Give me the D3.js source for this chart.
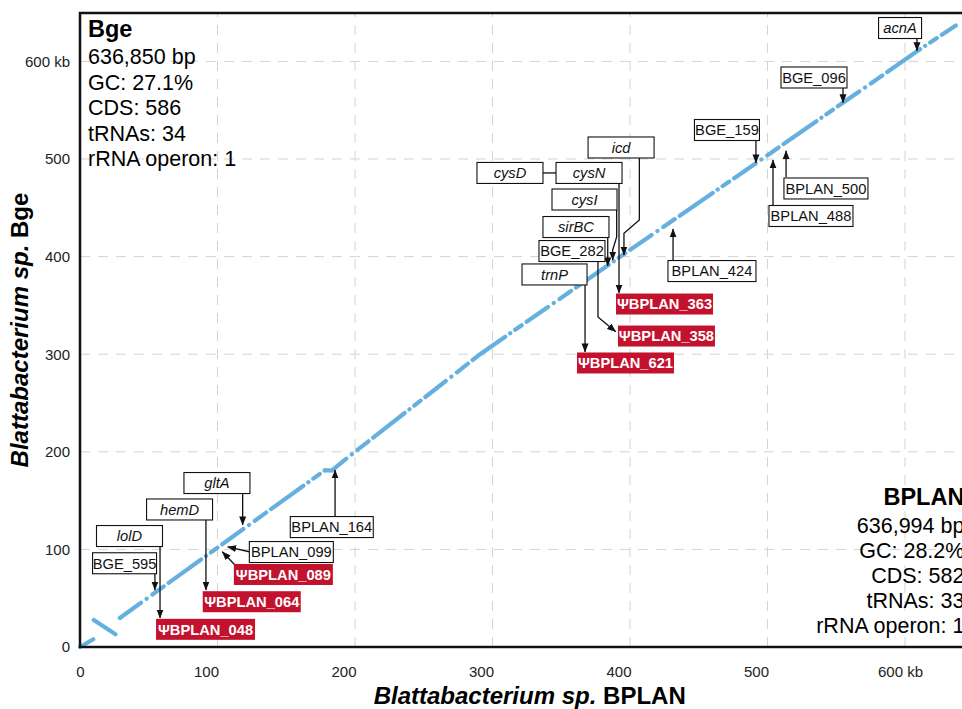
<!DOCTYPE html>
<html>
<head>
<meta charset="utf-8">
<script src="https://cdn.jsdelivr.net/npm/d3@7/dist/d3.min.js"></script>
<style>
  html, body { margin: 0; padding: 0; background: #fff; }
  svg { display: block; font-family: "Liberation Sans", Arial, Helvetica, sans-serif; }
</style>
</head>
<body>
<svg id="chart" width="962" height="709"></svg>
<script>
// ---- data (kb) ----
const genomeLenBplan = 636.994;
const genomeLenBge = 636.850;

const xTicks = [0, 100, 200, 300, 400, 500, 600];
const xTickLabels = ["0", "100", "200", "300", "400", "500", "600 kb"];
const yTicks = [0, 100, 200, 300, 400, 500, 600];
const yTickLabels = ["0", "100", "200", "300", "400", "500", "600 kb"];

// collinear blocks: BPLAN position vs Bge position of orthologous genes
const blockBplan = [
  [0, 9.7],
  [10, 27.6],
  [29, 178.2, 183, 200, 291, 393, 496, 609, 636.99]
];
const blockBge = [
  [0, 7.9],
  [27.6, 11.3],
  [29.7, 181.2, 180.8, 200, 300, 400, 500, 610.6, 636.85]
];

const statsBge = ["636,850 bp", "GC: 27.1%", "CDS: 586", "tRNAs: 34", "rRNA operon: 1"];
const statsBplan = ["636,994 bp", "GC: 28.2%", "CDS: 582", "tRNAs: 33", "rRNA operon: 1"];

// annotated loci: label text and kind (gene = italic gene name, locus = locus tag, pseudo = BPLAN pseudogene)
const labelText = ["acnA", "BGE_096", "BGE_159", "BPLAN_488", "BPLAN_500", "BPLAN_424",
  "icd", "cysD", "cysN", "cysI", "sirBC", "BGE_282", "trnP",
  "\u03A8BPLAN_363", "\u03A8BPLAN_358", "\u03A8BPLAN_621",
  "gltA", "hemD", "\u03A8BPLAN_064", "lolD", "\u03A8BPLAN_048", "BGE_595",
  "BPLAN_099", "\u03A8BPLAN_089", "BPLAN_164"];
const labelKind = ["gene", "locus", "locus", "locus", "locus", "locus",
  "gene", "gene", "gene", "gene", "gene", "locus", "gene",
  "pseudo", "pseudo", "pseudo",
  "gene", "gene", "pseudo", "gene", "pseudo", "locus",
  "locus", "pseudo", "locus"];

// label placement (box centre and leader path in kb, box width in px)
const labelLayout = [
  { c: [596.4, 634.2], w: 43, path: [[608.7, 624.0], [608.7, 610.8]] },
  { c: [533.8, 583.5], w: 66, path: [[554.9, 572.7], [554.9, 557.6]] },
  { c: [470.5, 529.7], w: 65, path: [[491.6, 521.5], [491.6, 496.0]] },
  { c: [531.6, 441.6], w: 84, path: [[504.0, 452.9], [504.0, 499.0]] },
  { c: [542.5, 469.8], w: 84, path: [[513.5, 481.6], [513.5, 508.4]] },
  { c: [459.6, 385.2], w: 88, path: [[431.3, 396.5], [431.3, 428.3]] },
  { c: [393.5, 511.8], w: 66, path: [[406.8, 501.0], [406.8, 437.5], [395.6, 423.9], [395.6, 401.6]] },
  { c: [312.7, 485.7], w: 66, path: [[336.7, 485.7], [346.2, 485.7]], noArrow: true },
  { c: [370.2, 485.7], w: 66, path: [[392.0, 475.4], [392.0, 362.7]] },
  { c: [366.9, 458.5], w: 65, path: [[390.3, 447.7], [390.3, 420.1], [387.4, 406.8], [387.4, 396.5]] },
  { c: [360.7, 430.3], w: 66, path: [[383.8, 419.4], [383.8, 390.4]] },
  { c: [357.8, 405.7], w: 66, path: [[376.7, 394.5], [376.7, 338.1], [389.6, 323.1]] },
  { c: [345.1, 381.7], w: 65, path: [[367.3, 370.9], [367.3, 302.3]] },
  { c: [425.1, 351.4], w: 97, path: null },
  { c: [426.5, 318.6], w: 97, path: null },
  { c: [396.7, 291.0], w: 97, path: null },
  { c: [99.6, 168.0], w: 66, path: [[118.3, 157.5], [118.3, 125.0]] },
  { c: [72.4, 140.9], w: 66, path: [[91.6, 130.1], [91.6, 58.4]] },
  { c: [124.9, 46.4], w: 98, path: null },
  { c: [36.0, 113.7], w: 66, path: [[58.2, 102.8], [58.2, 29.7]] },
  { c: [91.3, 18.1], w: 99, path: null },
  { c: [32.4, 85.8], w: 64, path: [[54.5, 76.1], [54.5, 58.4]] },
  { c: [153.7, 97.3], w: 84, path: [[123.1, 97.6], [107.4, 102.7]] },
  { c: [147.9, 74.3], w: 99, path: [[112.7, 84.0], [103.5, 97.6]] },
  { c: [183.1, 122.9], w: 83, path: [[185.5, 133.5], [185.5, 181.4]] }
];

// ---- scales ----
const svg = d3.select("#chart");
const x = d3.scaleLinear().domain([0, genomeLenBplan * 1.02]).range([80, 973.4]);
const y = d3.scaleLinear().domain([0, genomeLenBge * 1.02]).range([647, 13]);
const [x0, x1] = x.range();
const [y0, y1] = y.range();

// grid
const grid = svg.append("g").attr("stroke", "#d3d3d3").attr("stroke-width", 1)
  .attr("stroke-dasharray", "10 8");
grid.selectAll("line.v").data(xTicks.slice(1)).join("line").attr("class", "v")
  .attr("x1", d => x(d)).attr("x2", d => x(d)).attr("y1", y0).attr("y2", y1);
grid.selectAll("line.h").data(yTicks.slice(1)).join("line").attr("class", "h")
  .attr("y1", d => y(d)).attr("y2", d => y(d)).attr("x1", x0).attr("x2", x1);

// synteny line (ortholog pairs drawn as a broken dotted trace)
const blocks = blockBplan.map((b, i) => b.map((v, j) => [v, blockBge[i][j]]));
const line = d3.line().x(d => x(d[0])).y(d => y(d[1]));
svg.append("g").selectAll("path").data(blocks).join("path")
  .attr("d", line)
  .attr("fill", "none")
  .attr("stroke", "#66b0df")
  .attr("stroke-width", 4.2)
  .attr("stroke-linecap", "round")
  .attr("stroke-dasharray", "26 7 0.1 7 14 6 40 6 0.1 6 8 6");

// axes
const xAxis = svg.append("g").attr("transform", `translate(0,${y0})`)
  .call(d3.axisBottom(x).tickValues(xTicks).tickFormat((d, i) => xTickLabels[i]).tickSize(0).tickPadding(19));
xAxis.select(".domain").remove();
xAxis.selectAll("text").attr("font-size", 15).attr("fill", "#222")
  .attr("font-family", "Liberation Sans, Arial, sans-serif")
  .attr("text-anchor", (d, i) => i === 0 || i === xTicks.length - 1 ? "middle" : "end")
  .attr("dx", (d, i) => i === 0 ? 0 : (i === xTicks.length - 1 ? -5 : 1));

const yAxis = svg.append("g").attr("transform", `translate(${x0},0)`)
  .call(d3.axisLeft(y).tickValues(yTicks).tickFormat((d, i) => yTickLabels[i]).tickSize(0).tickPadding(10));
yAxis.select(".domain").remove();
yAxis.selectAll("text").attr("font-size", 15).attr("fill", "#222")
  .attr("font-family", "Liberation Sans, Arial, sans-serif");

// panel border
svg.append("rect").attr("x", x0).attr("y", y1).attr("width", x1 - x0).attr("height", y0 - y1)
  .attr("fill", "none").attr("stroke", "#111").attr("stroke-width", 2.5);

// axis titles
const xt = svg.append("text").attr("x", (x0 + x1) / 2 + 3).attr("y", 704)
  .attr("text-anchor", "middle").attr("font-size", 24).attr("font-weight", "bold");
xt.append("tspan").attr("font-style", "italic").text("Blattabacterium sp.");
xt.append("tspan").text(" BPLAN");
const yt = svg.append("text").attr("transform", `translate(28,${(y0 + y1) / 2}) rotate(-90)`)
  .attr("text-anchor", "middle").attr("font-size", 24).attr("font-weight", "bold");
yt.append("tspan").attr("font-style", "italic").text("Blattabacterium sp.");
yt.append("tspan").text(" Bge");

// genome summaries
const infoL = svg.append("g").attr("transform", `translate(${x0 + 8},0)`);
infoL.append("text").attr("y", 37).attr("font-size", 23.5).attr("font-weight", "bold").text("Bge");
infoL.selectAll("text.s").data(statsBge).join("text").attr("class", "s")
  .attr("y", (d, i) => 64 + i * 25.6).attr("font-size", 21.5).text(d => d);
const infoR = svg.append("g").attr("transform", `translate(${x1 - 9},0)`).attr("text-anchor", "end");
infoR.append("text").attr("y", 505).attr("font-size", 23.5).attr("font-weight", "bold").text("BPLAN");
infoR.selectAll("text.s").data(statsBplan).join("text").attr("class", "s")
  .attr("y", (d, i) => 533 + i * 25.1).attr("font-size", 21.5).text(d => d);

// arrowhead
svg.append("defs").append("marker").attr("id", "arr")
  .attr("markerUnits", "userSpaceOnUse").attr("markerWidth", 9).attr("markerHeight", 8)
  .attr("refX", 8.5).attr("refY", 4).attr("orient", "auto")
  .append("path").attr("d", "M0,0.5 L9,4 L0,7.5 Z").attr("fill", "#111");

// labels
const ann = labelText.map((t, i) => ({ text: t, kind: labelKind[i], ...labelLayout[i] }));
const pathLine = d3.line().x(d => x(d[0])).y(d => y(d[1]));
svg.append("g").selectAll("path").data(ann.filter(d => d.path)).join("path")
  .attr("d", d => pathLine(d.path))
  .attr("fill", "none").attr("stroke", "#111").attr("stroke-width", 1.3)
  .attr("marker-end", d => d.noArrow ? null : "url(#arr)");

const lab = svg.append("g").selectAll("g").data(ann).join("g")
  .attr("transform", d => `translate(${x(d.c[0])},${y(d.c[1])})`);
lab.append("rect")
  .attr("x", d => -d.w / 2).attr("y", -10.5).attr("width", d => d.w).attr("height", 21)
  .attr("fill", d => d.kind === "pseudo" ? "#c3122e" : "#fff")
  .attr("stroke", d => d.kind === "pseudo" ? "none" : "#111")
  .attr("stroke-width", 1.1);
lab.append("text")
  .attr("text-anchor", "middle").attr("y", 5.3)
  .attr("font-size", 14.7)
  .attr("font-style", d => d.kind === "gene" ? "italic" : "normal")
  .attr("font-weight", d => d.kind === "pseudo" ? "bold" : "normal")
  .attr("fill", d => d.kind === "pseudo" ? "#fff" : "#111")
  .text(d => d.text);
</script>
</body>
</html>
